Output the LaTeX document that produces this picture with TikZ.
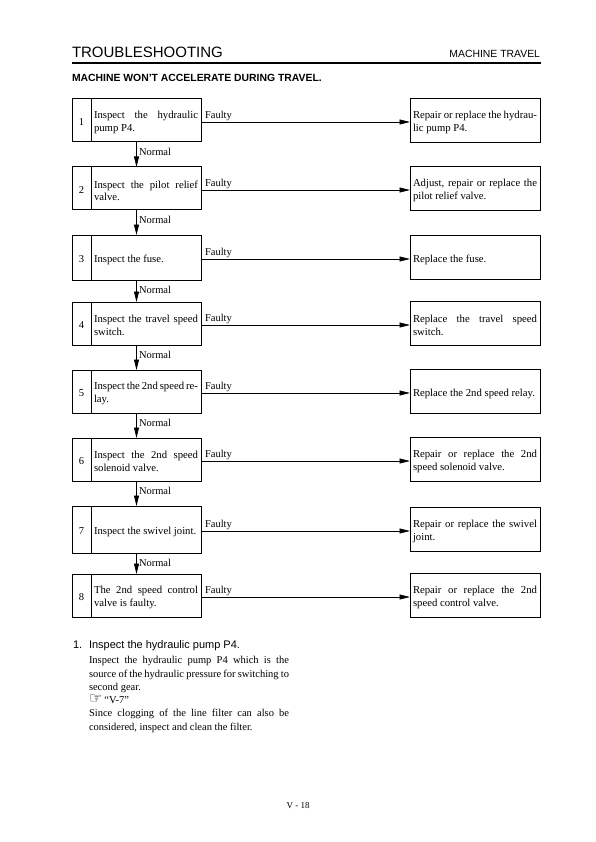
\documentclass[tikz,border=0pt]{standalone}
\usepackage{fontspec}
\setmainfont{Liberation Serif}
\setsansfont{Liberation Sans}
\newfontfamily\symfont{DejaVu Sans}
\usetikzlibrary{arrows.meta}
\newcommand\loosepar{\tolerance=10000\relax\hyphenpenalty=10000\relax}
\begin{document}
\begin{tikzpicture}[x=1pt,y=-1pt,
  every node/.style={inner sep=0pt, outer sep=0pt},
  bodyfont/.style={font=\fontsize{10.7}{12.3}\selectfont\loosepar},
  numbox/.style={draw, line width=1pt, minimum width=19pt, minimum height=#1, anchor=north west},
  numtext/.style={font=\fontsize{10.5}{12}\selectfont, yshift=-1.5pt},
  stepbox/.style={draw, line width=1pt, minimum width=110pt, minimum height=#1, anchor=north west},
  steptext/.style={text width=104pt, align=justify, bodyfont, yshift=-2pt},
  fixbox/.style={draw, line width=1pt, minimum width=130pt, minimum height=44pt, anchor=west},
  fixtext/.style={text width=124pt, align=justify, bodyfont, yshift=-2pt},
  flow/.style={line width=0.6pt, -{Triangle[length=10.5pt,width=5pt]}},
  lbl/.style={font=\fontsize{10.5}{12}\selectfont},
]
\useasboundingbox (0,0) rectangle (595,842);
\fill[white] (0,0) rectangle (595,842);

% header
\node[anchor=base west, font=\sffamily\fontsize{15}{17}\selectfont] (hd) at (72,58) {TROUBLESHOOTING};
\node[anchor=base east, font=\sffamily\fontsize{10.4}{12}\selectfont] (hr) at (540,58) {MACHINE TRAVEL};
\draw[line width=1.1pt] (72,63) -- (541,63);
\node[anchor=base west, font=\sffamily\bfseries\fontsize{10.4}{12}\selectfont] (title) at (72,81.5) {MACHINE WON'T ACCELERATE DURING TRAVEL.};

\coordinate (ax) at (136.5,0);
\coordinate (rc) at (410,0);

% left column boxes
\node[numbox=43pt] (n1) at (72,99) {};
\node[stepbox=43pt] (l1) at (91,99) {};
\node[numbox=43pt] (n2) at (72,167) {};
\node[stepbox=43pt] (l2) at (91,167) {};
\node[numbox=45pt] (n3) at (72,235) {};
\node[stepbox=45pt] (l3) at (91,235) {};
\node[numbox=43pt] (n4) at (72,302) {};
\node[stepbox=43pt] (l4) at (91,302) {};
\node[numbox=43pt] (n5) at (72,370) {};
\node[stepbox=43pt] (l5) at (91,370) {};
\node[numbox=43pt] (n6) at (72,438) {};
\node[stepbox=43pt] (l6) at (91,438) {};
\node[numbox=47pt] (n7) at (72,506) {};
\node[stepbox=47pt] (l7) at (91,506) {};
\node[numbox=43pt] (n8) at (72,574) {};
\node[stepbox=43pt] (l8) at (91,574) {};

% numbers
\foreach \i in {1,...,8}{ \node[numtext] (nt\i) at (n\i.center) {\i}; }

% left texts
\node[steptext] (lt1) at (l1.center) {Inspect the hydraulic\linebreak pump P4.};
\node[steptext] (lt2) at (l2.center) {Inspect the pilot relief\linebreak valve.};
\node[steptext] (lt3) at (l3.center) {Inspect the fuse.};
\node[steptext] (lt4) at (l4.center) {Inspect the travel speed\linebreak switch.};
\node[steptext] (lt5) at (l5.center) {Inspect the 2nd speed re-\linebreak lay.};
\node[steptext] (lt6) at (l6.center) {Inspect the 2nd speed\linebreak solenoid valve.};
\node[steptext] (lt7) at (l7.center) {Inspect the swivel joint.};
\node[steptext] (lt8) at (l8.center) {The 2nd speed control\linebreak valve is faulty.};

% right column
\foreach \i in {1,...,8}{ \node[fixbox] (r\i) at (l\i.center -| rc) {}; }
\node[fixtext] (rt1) at (r1.center) {Repair or replace the hydrau-\linebreak lic pump P4.};
\node[fixtext] (rt2) at (r2.center) {Adjust, repair or replace the\linebreak pilot relief valve.};
\node[fixtext] (rt3) at (r3.center) {Replace the fuse.};
\node[fixtext] (rt4) at (r4.center) {Replace the travel speed\linebreak switch.};
\node[fixtext] (rt5) at (r5.center) {Replace the 2nd speed relay.};
\node[fixtext] (rt6) at (r6.center) {Repair or replace the 2nd\linebreak speed solenoid valve.};
\node[fixtext] (rt7) at (r7.center) {Repair or replace the swivel\linebreak joint.};
\node[fixtext] (rt8) at (r8.center) {Repair or replace the 2nd\linebreak speed control valve.};

% faulty arrows
\foreach \i in {1,...,8}{
  \draw[flow] ([yshift=-1.5pt]l\i.east) -- ([yshift=-1.5pt]r\i.west)
    node[lbl, pos=0, anchor=south west, xshift=4pt, yshift=1.5pt] {Faulty};
}
% normal arrows
\foreach \i/\j in {1/2,2/3,3/4,4/5,5/6,6/7,7/8}{
  \draw[flow] (l\i.south -| ax) -- (l\j.north -| ax)
    node[lbl, pos=0, anchor=north west, xshift=2.5pt, yshift=-6pt] {Normal};
}

% explanation
\node[anchor=base west, font=\sffamily\fontsize{11}{13}\selectfont] (en) at (73,648) {1.};
\node[anchor=base west, font=\sffamily\fontsize{11}{13}\selectfont] (eh) at (89,648) {Inspect the hydraulic pump P4.};
\node[anchor=north west, text width=200pt, align=justify, font=\fontsize{10.5}{13.3}\selectfont\loosepar] (eb) at (89,656.5)
 {Inspect the hydraulic pump P4 which is the\linebreak source of the hydraulic pressure for switching to\linebreak second gear.\\
 {\symfont\fontsize{15}{13.3}\selectfont ☞}\hspace{2pt}“V-7”\\
 Since clogging of the line filter can also be\linebreak considered, inspect and clean the filter.};

\node[font=\fontsize{9}{10}\selectfont] (pg) at (298,806) {V - 18};
\end{tikzpicture}
\end{document}
